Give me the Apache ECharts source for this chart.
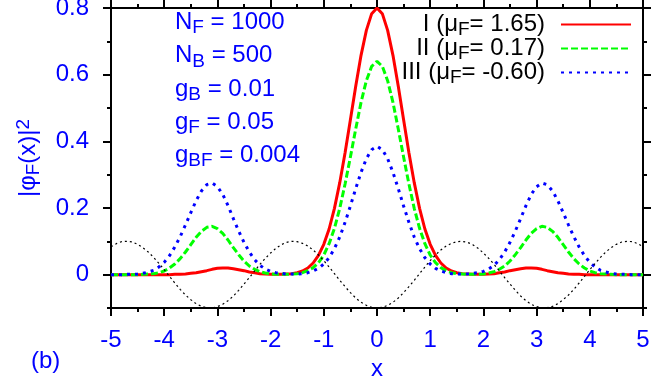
<!DOCTYPE html>
<html><head><meta charset="utf-8">
<script src="https://cdn.jsdelivr.net/npm/echarts@6/dist/echarts.min.js"></script>
<style>html,body{margin:0;padding:0;background:#fff}#c{width:664px;height:380px}</style>
</head><body><div id="c"></div>
<script>
const xs = [
-5.0,-4.9,-4.8,-4.7,-4.6,-4.5,-4.4,-4.3,-4.2,-4.1,
-4.0,-3.9,-3.8,-3.7,-3.6,-3.5,-3.4,-3.3,-3.2,-3.1,
-3.0,-2.9,-2.8,-2.7,-2.6,-2.5,-2.4,-2.3,-2.2,-2.1,
-2.0,-1.9,-1.8,-1.7,-1.6,-1.5,-1.4,-1.3,-1.2,-1.1,
-1.0,-0.9,-0.8,-0.7,-0.6,-0.5,-0.4,-0.3,-0.2,-0.1,
0.0,
0.1,0.2,0.3,0.4,0.5,0.6,0.7,0.8,0.9,1.0,
1.1,1.2,1.3,1.4,1.5,1.6,1.7,1.8,1.9,2.0,
2.1,2.2,2.3,2.4,2.5,2.6,2.7,2.8,2.9,3.0,
3.1,3.2,3.3,3.4,3.5,3.6,3.7,3.8,3.9,4.0,
4.1,4.2,4.3,4.4,4.5,4.6,4.7,4.8,4.9,5.0];

const seriesNames = ['I', 'II', 'III'];
const muValues = ['1.65', '0.17', '-0.60'];

const red = [
0,0,0,0,0,0,0,0,0,0,
0,0,0.001,0.001,0.002,0.004,0.006,0.009,0.012,0.016,
0.019,0.020,0.020,0.018,0.015,0.012,0.008,0.006,0.003,0.002,
0.001,0.001,0.001,0.002,0.003,0.006,0.011,0.020,0.035,0.058,
0.091,0.137,0.199,0.276,0.366,0.465,0.565,0.658,0.733,0.783,
0.800,
0.783,0.733,0.658,0.565,0.465,0.366,0.276,0.199,0.137,0.091,
0.058,0.035,0.020,0.011,0.006,0.003,0.002,0.001,0.001,0.001,
0.002,0.003,0.006,0.008,0.012,0.015,0.018,0.020,0.020,0.019,
0.016,0.012,0.009,0.006,0.004,0.002,0.001,0.001,0,0,
0,0,0,0,0,0,0,0,0,0];

const green = [
0,0,0,0,0,0,0.001,0.002,0.003,0.006,
0.011,0.020,0.032,0.048,0.068,0.090,0.112,0.130,0.142,0.145,
0.138,0.124,0.104,0.081,0.060,0.041,0.026,0.016,0.009,0.005,
0.002,0.001,0.001,0.001,0.002,0.003,0.006,0.012,0.021,0.036,
0.059,0.093,0.139,0.199,0.272,0.353,0.437,0.517,0.582,0.625,
0.640,
0.625,0.582,0.517,0.437,0.353,0.272,0.199,0.139,0.093,0.059,
0.036,0.021,0.012,0.006,0.003,0.002,0.001,0.001,0.001,0.002,
0.005,0.009,0.016,0.026,0.041,0.060,0.081,0.104,0.124,0.138,
0.145,0.142,0.130,0.112,0.090,0.068,0.048,0.032,0.020,0.011,
0.006,0.003,0.002,0.001,0,0,0,0,0,0];

const blue = [
0,0,0,0.001,0.001,0.002,0.004,0.008,0.013,0.023,
0.037,0.057,0.083,0.114,0.149,0.186,0.222,0.251,0.270,0.275,
0.264,0.241,0.207,0.168,0.131,0.097,0.068,0.045,0.028,0.017,
0.010,0.006,0.004,0.002,0.002,0.002,0.003,0.006,0.011,0.019,
0.032,0.051,0.078,0.113,0.157,0.206,0.258,0.307,0.348,0.375,
0.385,
0.375,0.348,0.307,0.258,0.206,0.157,0.113,0.078,0.051,0.032,
0.019,0.011,0.006,0.003,0.002,0.002,0.002,0.004,0.006,0.010,
0.017,0.028,0.045,0.068,0.097,0.131,0.168,0.207,0.241,0.264,
0.275,0.270,0.251,0.222,0.186,0.149,0.114,0.083,0.057,0.037,
0.023,0.013,0.008,0.004,0.002,0.001,0.001,0,0,0];

const potential = [
0.084,0.093,0.099,0.100,0.098,0.091,0.081,0.068,0.052,0.034,
0.015,-0.005,-0.025,-0.044,-0.061,-0.075,-0.087,-0.095,-0.099,-0.100,
-0.096,-0.089,-0.078,-0.064,-0.047,-0.028,-0.009,0.011,0.031,0.049,
0.065,0.079,0.090,0.097,0.100,0.099,0.094,0.086,0.074,0.059,
0.042,0.023,0.003,-0.017,-0.036,-0.054,-0.070,-0.083,-0.092,-0.098,
-0.100,
-0.098,-0.092,-0.083,-0.070,-0.054,-0.036,-0.017,0.003,0.023,0.042,
0.059,0.074,0.086,0.094,0.099,0.100,0.097,0.090,0.079,0.065,
0.049,0.031,0.011,-0.009,-0.028,-0.047,-0.064,-0.078,-0.089,-0.096,
-0.100,-0.099,-0.095,-0.087,-0.075,-0.061,-0.044,-0.025,-0.005,0.015,
0.034,0.052,0.068,0.081,0.091,0.098,0.100,0.099,0.093,0.084];

const yMajorTicks = [0, 0.2, 0.4, 0.6, 0.8];
const yMinorTicks = [-0.1, 0.1, 0.3, 0.5, 0.7];
const paramLines = [['N', 'F', '1000'], ['N', 'B', '500'], ['g', 'B', '0.01'], ['g', 'F', '0.05'], ['g', 'BF', '0.004']];

const FONT = '"Liberation Sans", Arial, Helvetica, sans-serif';
const BLUE = '#0000ff';
const fullNames = seriesNames.map((n, i) => n + ' (\u03bcF= ' + muValues[i] + ')');
const legendRich = {};
fullNames.forEach((f, i) => { legendRich[f] = '{m|' + seriesNames[i] + ' (\u03bc}{s|F}{m|= ' + muValues[i] + ')}'; });

function pairs(ys) { return xs.map((x, i) => [x, ys[i]]); }

const axisLineStyle = { color: '#000', width: 2 };
const tickStyle = { color: '#000', width: 2 };

function xAx(pos, labels) {
  return {
    type: 'value', min: -5, max: 5, interval: 1, position: pos,
    axisLine: { show: true, onZero: false, lineStyle: axisLineStyle },
    axisTick: { show: true, length: 8, lineStyle: tickStyle },
    minorTick: { show: true, splitNumber: 2, length: 4, lineStyle: tickStyle },
    splitLine: { show: false }, minorSplitLine: { show: false },
    axisLabel: { show: labels, color: BLUE, fontSize: 24, fontFamily: FONT, margin: 20 },
    name: labels ? 'x' : '', nameLocation: 'middle', nameGap: 44,
    nameTextStyle: { color: BLUE, fontSize: 24, fontFamily: FONT }
  };
}
function yAx(pos, ticks, len, labels) {
  const o = {
    type: 'value', min: -0.1, max: 0.8, position: pos,
    axisLine: { show: true, onZero: false, lineStyle: axisLineStyle },
    axisTick: { show: true, length: len, customValues: ticks, lineStyle: tickStyle },
    splitLine: { show: false }, minorTick: { show: false },
    axisLabel: { show: labels, customValues: ticks, color: BLUE, fontSize: 24, fontFamily: FONT, margin: 22,
      formatter: v => String(Math.round(v * 10) / 10) }
  };
  if (labels) {
    o.name = '{m|\u007c\u03c6}{s|F}{m|(x)\u007c}{p|2}';
    o.nameLocation = 'middle';
    o.nameRotate = 90;
    o.nameGap = 70;
    o.nameTextStyle = {
      color: BLUE, fontSize: 24, fontFamily: FONT, lineHeight: 25,
      rich: {
        m: { fontSize: 24, lineHeight: 25, fontFamily: FONT, color: BLUE },
        s: { fontSize: 19, lineHeight: 15, padding: [10, 0, 0, 0], fontFamily: FONT, color: BLUE },
        p: { fontSize: 19, lineHeight: 15, padding: [0, 0, 10, 0], fontFamily: FONT, color: BLUE }
      }
    };
  }
  return o;
}

const paramRich = {
  m: { fontSize: 24, lineHeight: 25, fontFamily: FONT, fill: BLUE },
  s: { fontSize: 19, lineHeight: 15, padding: [11, 0, 0, 0], fontFamily: FONT, fill: BLUE }
};

const chart = echarts.init(document.getElementById('c'), null, { renderer: 'canvas' });
chart.setOption({
  animation: false,
  backgroundColor: '#fff',
  textStyle: { fontFamily: FONT },
  grid: { left: 111, right: 21, top: 8, bottom: 72, outerBoundsMode: 'none' },
  xAxis: [xAx('bottom', true), xAx('top', false)],
  yAxis: [yAx('left', yMajorTicks, 8, true), yAx('left', yMinorTicks, 4, false),
          yAx('right', yMajorTicks, 8, false), yAx('right', yMinorTicks, 4, false)],
  legend: {
    data: fullNames, orient: 'vertical', align: 'right', right: 32, top: 10, padding: 0,
    itemWidth: 70, itemHeight: 14, itemGap: -5, selectedMode: false,
    itemStyle: { opacity: 0 },
    formatter: n => legendRich[n],
    textStyle: {
      color: '#000', fontSize: 24, fontFamily: FONT, lineHeight: 25, padding: [0, 11, 0, 0],
      rich: {
        m: { fontSize: 24, lineHeight: 25, fontFamily: FONT, color: '#000' },
        s: { fontSize: 19, lineHeight: 15, padding: [10, 0, 0, 0], fontFamily: FONT, color: '#000' }
      }
    }
  },
  graphic: paramLines.map((p, i) => ({
    type: 'text', x: 175, y: 22.5 + i * 33.3,
    style: { text: '{m|' + p[0] + '}{s|' + p[1] + '}{m| = ' + p[2] + '}', rich: paramRich, fill: BLUE,
      fontSize: 24, fontFamily: FONT, align: 'left', verticalAlign: 'middle' }
  })).concat([{
    type: 'text', x: 31, y: 361,
    style: { text: '(b)', fill: BLUE, fontSize: 24, fontFamily: FONT, align: 'left', verticalAlign: 'middle' }
  }]),
  series: [
    { name: fullNames[0], type: 'line', data: pairs(red), symbol: 'none', z: 3,
      lineStyle: { color: '#ff0000', width: 3 }, itemStyle: { color: '#ff0000' } },
    { name: fullNames[1], type: 'line', data: pairs(green), symbol: 'none', z: 4,
      lineStyle: { color: '#00ff00', width: 3, type: [7, 3] }, itemStyle: { color: '#00ff00' } },
    { name: fullNames[2], type: 'line', data: pairs(blue), symbol: 'none', z: 5,
      lineStyle: { color: '#0000ff', width: 3, type: [3, 5] }, itemStyle: { color: '#0000ff' } },
    { name: 'V', type: 'line', data: pairs(potential), symbol: 'none', z: 6,
      lineStyle: { color: '#000', width: 1.2, type: [2, 3] }, itemStyle: { color: '#000' } }
  ]
});
</script>
</body></html>
